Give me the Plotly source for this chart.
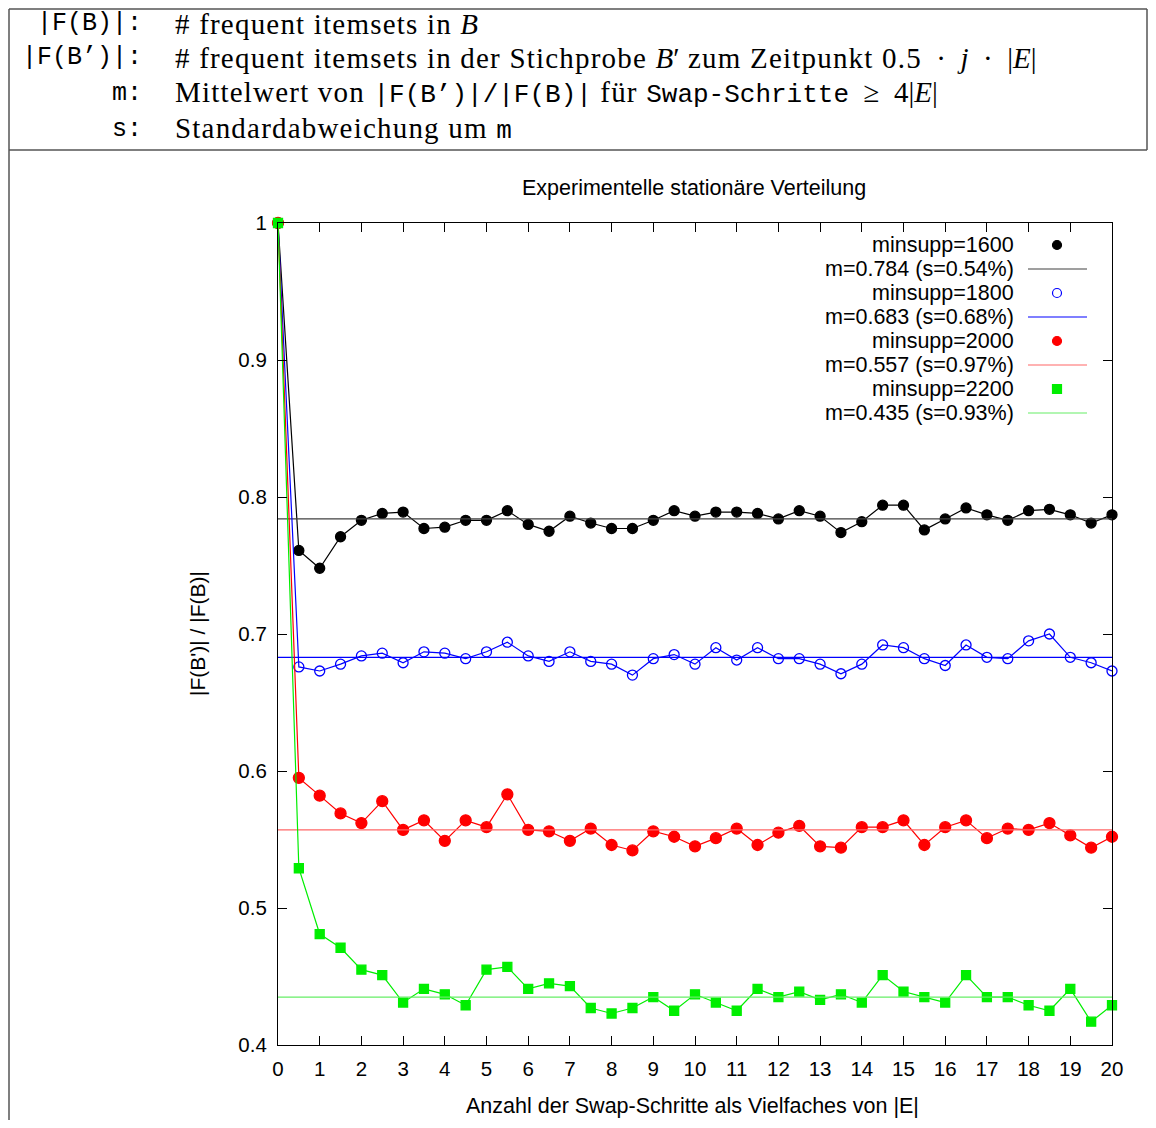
import plotly.graph_objects as go

# ---------------- data ----------------
steps = [0, 0.5, 1, 1.5, 2, 2.5, 3, 3.5, 4, 4.5, 5, 5.5, 6, 6.5, 7, 7.5, 8, 8.5, 9, 9.5, 10,
         10.5, 11, 11.5, 12, 12.5, 13, 13.5, 14, 14.5, 15, 15.5, 16, 16.5, 17, 17.5, 18, 18.5, 19, 19.5, 20]

ratio_1600 = [1.0, 0.761, 0.748, 0.771, 0.783, 0.788, 0.789, 0.777, 0.778, 0.783, 0.783, 0.790, 0.780,
              0.775, 0.786, 0.781, 0.777, 0.777, 0.783, 0.790, 0.786, 0.789, 0.789, 0.788, 0.784,
              0.790, 0.786, 0.774, 0.782, 0.794, 0.794, 0.776, 0.784, 0.792, 0.787, 0.783, 0.790,
              0.791, 0.787, 0.781, 0.787]
ratio_1800 = [1.0, 0.676, 0.673, 0.678, 0.684, 0.686, 0.679, 0.687, 0.686, 0.682, 0.687, 0.694, 0.684,
              0.680, 0.687, 0.680, 0.678, 0.670, 0.682, 0.685, 0.678, 0.690, 0.681, 0.690, 0.682,
              0.682, 0.678, 0.671, 0.678, 0.692, 0.690, 0.682, 0.677, 0.692, 0.683, 0.682, 0.695,
              0.700, 0.683, 0.679, 0.673]
ratio_2000 = [1.0, 0.595, 0.582, 0.569, 0.562, 0.578, 0.557, 0.564, 0.549, 0.564, 0.559, 0.583, 0.557,
              0.556, 0.549, 0.558, 0.546, 0.542, 0.556, 0.552, 0.545, 0.551, 0.558, 0.546, 0.555,
              0.560, 0.545, 0.544, 0.559, 0.559, 0.564, 0.546, 0.559, 0.564, 0.551, 0.558, 0.557,
              0.562, 0.553, 0.544, 0.552]
ratio_2200 = [1.0, 0.529, 0.481, 0.471, 0.455, 0.451, 0.431, 0.441, 0.437, 0.429, 0.455, 0.457, 0.441,
              0.445, 0.443, 0.427, 0.423, 0.427, 0.435, 0.425, 0.437, 0.431, 0.425, 0.441, 0.435,
              0.439, 0.433, 0.437, 0.431, 0.451, 0.439, 0.435, 0.431, 0.451, 0.435, 0.435, 0.429,
              0.425, 0.441, 0.417, 0.429]

minsupp = [1600, 1800, 2000, 2200]
means = [0.784, 0.683, 0.557, 0.435]
stdevs = ["0.54%", "0.68%", "0.97%", "0.93%"]
series = [ratio_1600, ratio_1800, ratio_2000, ratio_2200]

x_ticks = list(range(0, 21))
y_ticks = [0.4, 0.5, 0.6, 0.7, 0.8, 0.9, 1.0]

# ---------------- styles ----------------
OFF = 8                     # page body margin of the html page
W, H = 1156 - 2 * OFF, 1128 - 2 * OFF
L, R, T, B = 278, 1112, 223, 1045   # plot area in screen pixels
colors = ["#000000", "#0000ff", "#ff0000", "#00ee00"]
mean_colors = ["#404040", "#0000ff", "#ff6666", "#66ee66"]
symbols = ["circle", "circle-open", "circle", "square"]
msizes = [10, 10, 11, 9]
SANS = "Liberation Sans, Arial, sans-serif"
SERIF = "Liberation Serif, Times New Roman, serif"
MONO = "Liberation Mono, Courier New, monospace"
TXT = 21.5


def px(p):
    return (p - L) / (R - L)


def py(p):
    return (B - p) / (B - T)


fig = go.Figure()
for i, (ys, ms, mval) in enumerate(zip(series, minsupp, means)):
    fig.add_trace(go.Scatter(
        x=steps, y=ys, mode="lines+markers", name=f"minsupp={ms}",
        line=dict(color=colors[i], width=1.2),
        marker=dict(symbol=symbols[i], size=msizes[i], color=colors[i],
                    line=dict(color=colors[i], width=1.3)),
        cliponaxis=False, showlegend=False))
    fig.add_trace(go.Scatter(
        x=[steps[0], steps[-1]], y=[mval, mval], mode="lines",
        line=dict(color=mean_colors[i], width=1.2), showlegend=False))

annotations = []
shapes = []

# manual gnuplot-style key
row0 = 245
for i in range(4):
    y1 = row0 + 48 * i
    y2 = y1 + 24
    annotations.append(dict(x=px(1016), y=py(y1), xref="paper", yref="paper",
                            text=f"minsupp={minsupp[i]}", showarrow=False,
                            xanchor="right", yanchor="middle",
                            font=dict(family=SANS, size=TXT, color="black")))
    annotations.append(dict(x=px(1016), y=py(y2), xref="paper", yref="paper",
                            text=f"m={means[i]} (s={stdevs[i]})", showarrow=False,
                            xanchor="right", yanchor="middle",
                            font=dict(family=SANS, size=TXT, color="black")))
    s = 4.5
    kind = "rect" if symbols[i] == "square" else "circle"
    fill = "rgba(0,0,0,0)" if symbols[i] == "circle-open" else colors[i]
    shapes.append(dict(type=kind, xref="paper", yref="paper", xsizemode="pixel",
                       ysizemode="pixel", xanchor=px(1057), yanchor=py(y1),
                       x0=-s, x1=s, y0=-s, y1=s, fillcolor=fill,
                       line=dict(color=colors[i], width=1.2)))
    shapes.append(dict(type="line", xref="paper", yref="paper",
                       x0=px(1028), x1=px(1087), y0=py(y2), y1=py(y2),
                       line=dict(color=mean_colors[i], width=1.2)))

# chart texts
annotations.append(dict(x=px(694), y=py(188), xref="paper", yref="paper",
                        text="Experimentelle stationäre Verteilung", showarrow=False,
                        xanchor="center", yanchor="middle",
                        font=dict(family=SANS, size=TXT, color="black")))
annotations.append(dict(x=px(197), y=py(634), xref="paper", yref="paper",
                        text="|F(B')| / |F(B)|", showarrow=False, textangle=-90,
                        xanchor="center", yanchor="middle",
                        font=dict(family=SANS, size=21, color="black")))
annotations.append(dict(x=px(692), y=py(1106), xref="paper", yref="paper",
                        text="Anzahl der Swap-Schritte als Vielfaches von |E|", showarrow=False,
                        xanchor="center", yanchor="middle",
                        font=dict(family=SANS, size=TXT, color="black")))

# header table
mono = lambda t: f"<span style='font-family:Liberation Mono;font-size:26px'>{t}</span>"
rm = lambda t: f"<span style='letter-spacing:1.2px'>{t}</span>"
sp = "&nbsp;"
labels = ["|F(B)|:", "|F(B’)|:", "m:", "s:"]
descs = [
    rm("# frequent itemsets in ") + "<i>B</i>",
    rm("# frequent itemsets in der Stichprobe ") + "<i>B</i>′" + rm(" zum Zeitpunkt 0.5")
    + f"{sp}{sp}·{sp}{sp}<i>j</i>{sp}{sp}·{sp}{sp}|<i>E</i>|",
    rm("Mittelwert von ") + mono("|F(B’)|/|F(B)|") + rm(" für ") + mono("Swap-Schritte")
    + f"{sp}{sp}≥{sp}{sp}4|<i>E</i>|",
    rm("Standardabweichung um ") + mono("m"),
]
rows_y = [24, 58, 93, 129]
for lab, d, yy in zip(labels, descs, rows_y):
    annotations.append(dict(x=px(144), y=py(yy), xref="paper", yref="paper", text=lab,
                            showarrow=False, xanchor="right", yanchor="middle",
                            font=dict(family=MONO, size=25, color="black")))
    annotations.append(dict(x=px(173), y=py(yy), xref="paper", yref="paper", text=d,
                            showarrow=False, xanchor="left", yanchor="middle",
                            font=dict(family=SERIF, size=29, color="black")))

# table frame (screen pixels)
frame = [
    (9, 9, 1147, 9),
    (9, 150, 1147, 150),
    (9, 9, 9, 1120),
    (1147, 9, 1147, 150),
]
for x0, y0, x1, y1 in frame:
    shapes.append(dict(type="line", xref="paper", yref="paper",
                       x0=px(x0), x1=px(x1), y0=py(y0), y1=py(y1),
                       line=dict(color="#555555", width=1.5)))

fig.update_layout(
    width=W, height=H,
    margin=dict(l=L - OFF, r=W - (R - OFF), t=T - OFF, b=H - (B - OFF)),
    paper_bgcolor="white", plot_bgcolor="white",
    font=dict(family=SANS, size=20, color="black"),
    annotations=annotations, shapes=shapes,
    xaxis=dict(range=[0, 20], tickvals=x_ticks, showgrid=False, zeroline=False,
               showline=True, linecolor="black", linewidth=1.2, mirror="ticks",
               ticks="inside", ticklen=9, tickcolor="black", ticklabelstandoff=5,
               tickfont=dict(family=SANS, size=20.5, color="black")),
    yaxis=dict(range=[0.4, 1.0], tickvals=y_ticks, showgrid=False, zeroline=False,
               showline=True, linecolor="black", linewidth=1.2, mirror="ticks",
               ticks="inside", ticklen=9, tickcolor="black", ticklabelstandoff=6,
               tickfont=dict(family=SANS, size=20.5, color="black")),
    showlegend=False,
)

fig.write_html("out.html")
